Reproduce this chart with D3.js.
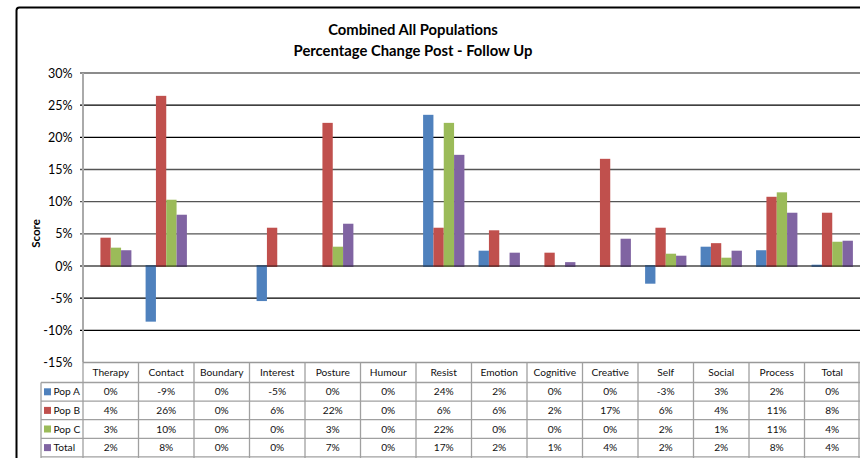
<!DOCTYPE html>
<html><head><meta charset="utf-8">
<script src="https://cdn.jsdelivr.net/npm/d3@7/dist/d3.min.js"></script>
<style>
html,body{margin:0;padding:0;background:#fff;}
svg{display:block;font-family:Lato,"Open Sans",sans-serif;}
</style></head>
<body>
<svg id="chart" width="860" height="458"></svg>
<script>
const categories = ["Therapy","Contact","Boundary","Interest","Posture","Humour","Resist","Emotion","Cognitive","Creative","Self","Social","Process","Total"];
const seriesNames = ["Pop A","Pop B","Pop C","Total"];
const popA  = [0, -8.65, 0, -5.45, 0, 0, 23.5, 2.38, 0, 0, -2.75, 3.0, 2.45, 0.2];
const popB  = [4.4, 26.45, 0, 5.95, 22.25, 0, 5.95, 5.55, 2.07, 16.66, 5.95, 3.55, 10.76, 8.28];
const popC  = [2.85, 10.3, 0, 0, 3.0, 0, 22.25, 0, 0, 0, 1.91, 1.29, 11.45, 3.77];
const total = [2.45, 7.97, 0, 0, 6.57, 0, 17.28, 2.07, 0.6, 4.24, 1.6, 2.38, 8.28, 3.93];
const yTicks = [30, 25, 20, 15, 10, 5, 0, -5, -10, -15];
const colors = ["#4F81BD","#C0504D","#9BBB59","#8064A2"];
const titleLines = ["Combined All Populations","Percentage Change Post - Follow Up"];

(function(){
const series = [popA, popB, popC, total];
const svg = d3.select("#chart");

// outer chart border
svg.append("rect").attr("x",16.5).attr("y",7.5).attr("width",900).attr("height",500)
  .attr("rx",3).attr("fill","#fff").attr("stroke","#000").attr("stroke-width",2);

const pLeft = 83, pRight = 860, pTop = 73, pBottom = 362.5;
const x = d3.scaleBand().domain(categories).range([pLeft, pRight]);
const y = d3.scaleLinear().domain([-15, 30]).range([pBottom, pTop]);
const inner = d3.scaleBand().domain(d3.range(4)).range([0, 41.3]);

// title
svg.append("g").selectAll("text").data(titleLines).join("text")
  .attr("x", 413).attr("y", (d,i)=>34.5 + i*21)
  .attr("text-anchor","middle").attr("font-weight","bold").attr("font-size","14.8px")
  .attr("fill","#000").text(d=>d);

// gridlines
const gridColor = {30:"#666",25:"#000",20:"#000",15:"#555",10:"#555",5:"#555",0:"#777",[-5]:"#000",[-10]:"#000"};
svg.append("g").selectAll("line").data(yTicks.filter(t=>t!==-15)).join("line")
  .attr("x1", pLeft-3).attr("x2", pRight)
  .attr("y1", d=>y(d)).attr("y2", d=>y(d))
  .attr("stroke", d=>gridColor[d]).attr("stroke-width", d=> d===0 ? 2 : 1.4);

// y axis via d3
const yAxis = d3.axisLeft(y).tickValues(yTicks).tickFormat(d=>d+"%").tickSize(0).tickPadding(10.5);
const ya = svg.append("g").attr("transform",`translate(${pLeft},0)`).call(yAxis);
ya.select(".domain").remove();
ya.selectAll("text").attr("font-size","12.5px").attr("fill","#000").attr("font-family","Lato");

// axis line
svg.append("line").attr("x1",pLeft).attr("x2",pLeft).attr("y1",pTop).attr("y2",pBottom)
  .attr("stroke","#aaa").attr("stroke-width",2);

// y label
svg.append("text").attr("transform","translate(40,233.5) rotate(-90)")
  .attr("text-anchor","middle").attr("font-weight","bold").attr("font-size","11.5px").text("Score");

// bars
const groupOffset = (x.bandwidth() - inner.range()[1]) / 2;
series.forEach((vals, si) => {
  const g = svg.append("g");
  const d0 = vals.map((v,i)=>({v, c:categories[i]}));
  g.selectAll("rect").data(d0).join("rect")
    .attr("x", d => x(d.c) + groupOffset + inner(si))
    .attr("width", inner.bandwidth())
    .attr("y", d => y(Math.max(0, d.v)))
    .attr("height", d => Math.abs(y(d.v) - y(0)))
    .attr("fill", colors[si]);
  g.selectAll("line").data(d0.filter(d=>d.v!==0)).join("line")
    .attr("x1", d => x(d.c) + groupOffset + inner(si))
    .attr("x2", d => x(d.c) + groupOffset + inner(si) + inner.bandwidth())
    .attr("y1", y(0)).attr("y2", y(0))
    .attr("stroke", d3.color(colors[si]).darker(1.6)).attr("stroke-width",2).attr("opacity",0.8);
});

// data table
const headerTop = pBottom, headerH = 20, rowH = 18.6, tableLeft = 41;
const rowY = i => headerTop + headerH + i*rowH;
const tcol = "#a0a0a0";
const tg = svg.append("g");
tg.append("line").attr("x1",pLeft).attr("x2",pRight).attr("y1",headerTop).attr("y2",headerTop).attr("stroke","#999").attr("stroke-width",1.5);
d3.range(5).forEach(i=>{
  tg.append("line").attr("x1",tableLeft).attr("x2",pRight).attr("y1",rowY(i)).attr("y2",rowY(i)).attr("stroke",tcol).attr("stroke-width",1.3);
});
categories.forEach(c=>{
  tg.append("line").attr("x1",x(c)).attr("x2",x(c)).attr("y1",headerTop).attr("y2",458).attr("stroke",tcol).attr("stroke-width",1.3);
});
tg.append("line").attr("x1",pRight-1).attr("x2",pRight-1).attr("y1",headerTop).attr("y2",458).attr("stroke",tcol).attr("stroke-width",1.3);
tg.append("line").attr("x1",tableLeft).attr("x2",tableLeft).attr("y1",rowY(0)).attr("y2",458).attr("stroke",tcol).attr("stroke-width",1.3);

tg.selectAll("text.hdr").data(categories).join("text").attr("class","hdr")
  .attr("x", d=>x(d)+x.bandwidth()/2).attr("y", headerTop + headerH/2 + 3.5)
  .attr("text-anchor","middle").attr("font-size","10.2px").attr("fill","#111").text(d=>d);

series.forEach((vals, si)=>{
  const cy = rowY(si) + rowH/2 + 3.5;
  tg.append("rect").attr("x",44).attr("y",rowY(si)+rowH/2-3.5).attr("width",7).attr("height",7).attr("fill",colors[si]);
  tg.append("text").attr("x",53.5).attr("y",cy).attr("font-size","10.2px").attr("fill","#111").text(seriesNames[si]);
  tg.selectAll("text.v"+si).data(vals.map((v,i)=>({v,c:categories[i]}))).join("text").attr("class","v"+si)
    .attr("x", d=>x(d.c)+x.bandwidth()/2).attr("y", cy)
    .attr("text-anchor","middle").attr("font-size","10.2px").attr("fill","#111")
    .text(d=>Math.round(d.v)+"%");
});
})();
</script>
</body></html>
